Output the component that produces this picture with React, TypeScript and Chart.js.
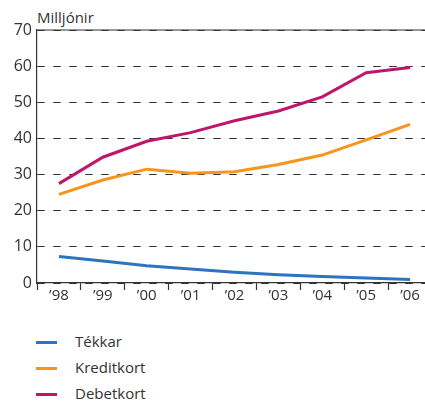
import React, { useEffect, useRef } from "react";
import { Chart, registerables } from "chart.js";

Chart.register(...registerables);

const years = ["’98", "’99", "’00", "’01", "’02", "’03", "’04", "’05", "’06"];
const tekkar = [7.3, 6.1, 4.8, 3.9, 3.0, 2.3, 1.8, 1.4, 1.0];
const kreditkort = [24.5, 28.5, 31.5, 30.4, 30.8, 32.8, 35.4, 39.6, 43.9];
const debetkort = [27.5, 34.8, 39.2, 41.6, 44.9, 47.6, 51.5, 58.2, 59.6];
const yTicks = [0, 10, 20, 30, 40, 50, 60, 70];

const seriesNames = ["Tékkar", "Kreditkort", "Debetkort"];
const seriesColors = ["#2c74bc", "#f7941d", "#c0166a"];

const FONT = "'Open Sans', 'Noto Sans', sans-serif";
const TEXT = "#333333";

export default function App() {
  const ref = useRef<HTMLCanvasElement | null>(null);

  useEffect(() => {
    if (!ref.current) return;
    const topLine = {
      id: "topLine",
      afterDraw(chart: any) {
        const { ctx, chartArea } = chart;
        ctx.save();
        ctx.strokeStyle = TEXT;
        ctx.lineWidth = 1.2;
        ctx.beginPath();
        ctx.moveTo(chartArea.left, chartArea.top);
        ctx.lineTo(chartArea.right, chartArea.top);
        ctx.stroke();
        ctx.restore();
      },
    };
    const chart = new Chart(ref.current, {
      type: "line",
      data: {
        labels: years,
        datasets: [tekkar, kreditkort, debetkort].map((d, i) => ({
          label: seriesNames[i],
          data: d,
          borderColor: seriesColors[i],
          backgroundColor: seriesColors[i],
          borderWidth: 3,
          pointRadius: 0,
          tension: 0,
          fill: false,
        })),
      },
      options: {
        responsive: false,
        animation: false,
        devicePixelRatio: 1,
        layout: { padding: { top: 30, right: 8, left: 0, bottom: 0 } },
        plugins: { legend: { display: false }, tooltip: { enabled: false } },
        scales: {
          x: {
            type: "category",
            offset: true,
            grid: {
              offset: true,
              drawOnChartArea: false,
              drawTicks: true,
              tickLength: 7,
              tickColor: TEXT,
              tickWidth: 1.2,
            },
            border: { display: true, color: TEXT, width: 1.2 },
            ticks: {
              color: TEXT,
              font: { family: FONT, size: 15 },
              padding: -3,
              maxRotation: 0,
              autoSkip: false,
            },
            afterFit: (s: any) => {
              s.height = 30;
            },
          },
          y: {
            min: 0,
            max: 70,
            afterBuildTicks: (s: any) => {
              s.ticks = yTicks.map((v) => ({ value: v }));
            },
            grid: { color: TEXT, lineWidth: 1, drawTicks: false },
            border: { display: true, color: TEXT, width: 1.2, dash: [7.5, 8.5] },
            ticks: {
              color: TEXT,
              font: { family: FONT, size: 16 },
              padding: 5,
            },
            afterFit: (s: any) => {
              s.width = 37;
            },
          },
        },
      },
      plugins: [topLine],
    });
    return () => chart.destroy();
  }, []);

  return (
    <div
      style={{
        position: "fixed",
        left: 0,
        top: 0,
        width: 425,
        height: 401,
        overflow: "hidden",
        background: "#ffffff",
        fontFamily: FONT,
        color: TEXT,
      }}
    >
      <div
        style={{
          position: "absolute",
          left: 37,
          top: 7,
          fontSize: 15,
          lineHeight: "20px",
        }}
      >
        Milljónir
      </div>
      <canvas
        ref={ref}
        width={440}
        height={313}
        style={{ position: "absolute", left: 0, top: 0, width: 440, height: 313, display: "block" }}
      />
      {seriesNames.map((name, i) => {
        const cy = 342 + i * 26;
        return (
          <div key={name}>
            <div
              style={{
                position: "absolute",
                left: 36,
                top: cy - 1.5,
                width: 21,
                height: 3,
                background: seriesColors[i],
              }}
            />
            <div
              style={{
                position: "absolute",
                left: 75,
                top: cy - 11,
                fontSize: 15,
                lineHeight: "20px",
                whiteSpace: "nowrap",
              }}
            >
              {name}
            </div>
          </div>
        );
      })}
    </div>
  );
}
